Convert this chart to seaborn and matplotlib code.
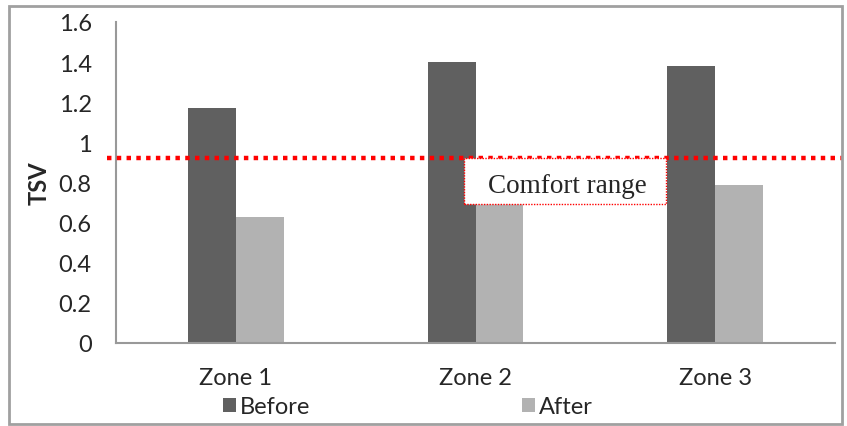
import numpy as np
import pandas as pd
import matplotlib
matplotlib.use("Agg")
import matplotlib.pyplot as plt
from matplotlib.patches import Rectangle
import seaborn as sns

zones = ["Zone 1", "Zone 2", "Zone 3"]
before = [1.17, 1.40, 1.38]
after = [0.63, 0.72, 0.79]
comfort_limit = 0.92

df = pd.DataFrame({
    "zone": zones * 2,
    "period": ["Before"] * 3 + ["After"] * 3,
    "tsv": before + after,
})

sns.set_style("white")
plt.rcParams["font.family"] = ["Lato", "DejaVu Sans"]

fs = 17
fig = plt.figure(figsize=(8.47, 4.27), dpi=100)
ax = fig.add_axes([116 / 847, 1 - 344 / 427, (835 - 116) / 847, (344 - 23) / 427])

sns.barplot(data=df, x="zone", y="tsv", hue="period", palette=["#606060", "#b2b2b2"],
            width=0.4, edgecolor="none", ax=ax)

ax.set_ylim(0, 1.6)
ax.set_xlim(-0.5, 2.5)
ticks = np.arange(0, 1.61, 0.2)
ax.set_yticks(ticks)
ax.set_yticklabels([f"{t:g}" for t in ticks])
ax.tick_params(axis="y", labelsize=fs, length=6.5, width=1.2, color="#888888", direction="out", pad=11)
ax.tick_params(axis="x", labelsize=fs, length=0, pad=17)
ax.set_xlabel("")
ax.set_ylabel("TSV", fontsize=fs, fontweight="bold", labelpad=6)
for s in ["top", "right"]:
    ax.spines[s].set_visible(False)
for s in ["left", "bottom"]:
    ax.spines[s].set_color("#999999")
    ax.spines[s].set_linewidth(1.5)

# comfort threshold
ax.axhline(comfort_limit, xmin=-0.013, xmax=1.01, color="#ff0000", lw=3.2,
           linestyle=(0, (1, 1.2)), clip_on=False, zorder=5)

# comfort range label box
box = Rectangle((0.954, 0.693), 0.842, comfort_limit - 0.693, facecolor="white",
                edgecolor="#ff0000", lw=1, linestyle=(0, (1, 1)), zorder=6)
ax.add_patch(box)
ax.text(1.383, 0.785, "Comfort range", family="Liberation Serif", fontsize=19.5,
        ha="center", va="center", zorder=7)

handles, labels = ax.get_legend_handles_labels()
ax.legend_.remove()
fig.legend(handles, labels, loc="center left", bbox_to_anchor=(223 / 847, 1 - 408 / 427), ncol=2,
           frameon=False, fontsize=fs, handlelength=0.57, handleheight=0.57,
           handletextpad=0.15, columnspacing=8.95, borderpad=0, borderaxespad=0)

fig.patches.append(Rectangle((9 / 847, 1 - 425 / 427), 833 / 847, 418 / 427,
                             transform=fig.transFigure, fill=False,
                             edgecolor="#a0a0a0", lw=2))

fig.savefig("out.png", dpi=100)
